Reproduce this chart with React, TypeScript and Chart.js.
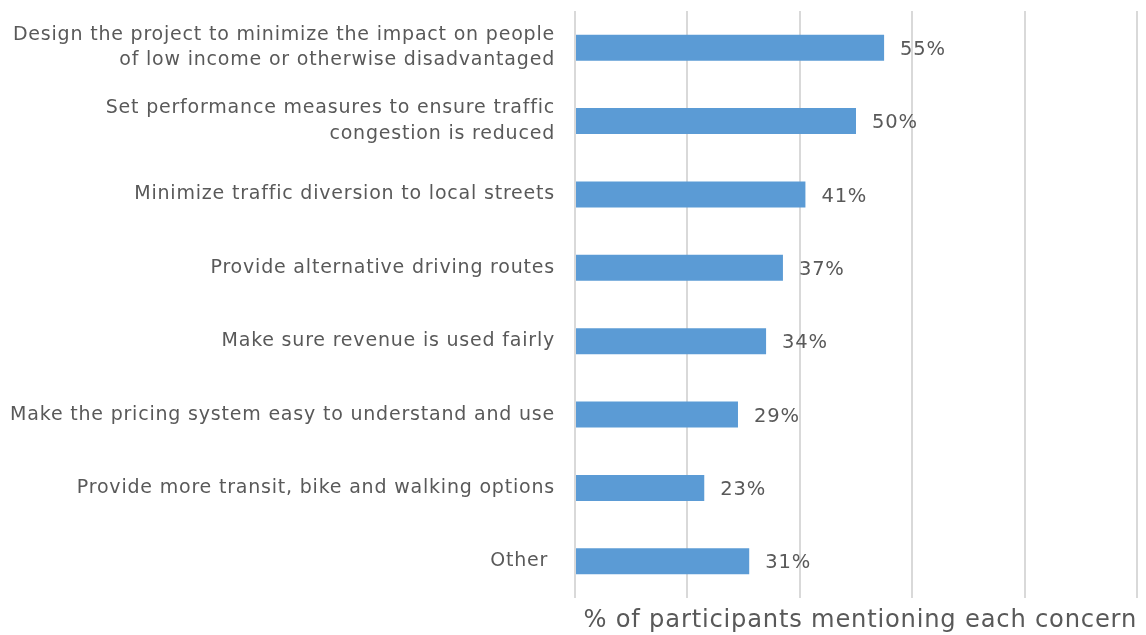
import React, { useEffect, useRef } from "react";
import { Chart, registerables } from "chart.js";

Chart.register(...registerables);

const categories: (string | string[])[] = [
  ["Design the project to minimize the impact on people", "of low income or otherwise disadvantaged"],
  ["Set performance measures to ensure traffic", "congestion is reduced"],
  "Minimize traffic diversion to local streets",
  "Provide alternative driving routes",
  "Make sure revenue is used fairly",
  "Make the pricing system easy to understand and use",
  "Provide more transit, bike and walking options",
  "Other ",
];
const values: number[] = [55, 50, 41, 37, 34, 29, 23, 31];
const axisTitle = " % of participants mentioning each concern";

const FONT = "'DejaVu Sans', sans-serif";
const TEXT = "#595959";
const SPACING = "0.8px";

const spacingPlugin = {
  id: "spacing",
  beforeUpdate(chart: any) {
    chart.ctx.letterSpacing = SPACING;
  },
  beforeLayout(chart: any) {
    chart.ctx.letterSpacing = SPACING;
  },
  beforeDraw(chart: any) {
    chart.ctx.letterSpacing = SPACING;
  },
};

const dataLabels = {
  id: "dataLabels",
  afterDatasetsDraw(chart: any) {
    const ctx = chart.ctx;
    const meta = chart.getDatasetMeta(0);
    ctx.save();
    ctx.font = `19.5px ${FONT}`;
    ctx.fillStyle = TEXT;
    ctx.textAlign = "left";
    ctx.textBaseline = "middle";
    meta.data.forEach((bar: any, i: number) => {
      ctx.fillText(values[i] + "%", bar.x + 16, bar.y + 2);
    });
    ctx.restore();
  },
};

export default function App() {
  const ref = useRef<HTMLCanvasElement>(null);
  useEffect(() => {
    document.body.style.margin = "0";
    const chart = new Chart(ref.current!, {
      type: "bar",
      data: {
        labels: categories,
        datasets: [
          {
            data: values,
            backgroundColor: "#5b9bd5",
            borderWidth: 0,
            barPercentage: 0.7,
            categoryPercentage: 0.505,
          },
        ],
      },
      options: {
        indexAxis: "y",
        responsive: false,
        animation: false,
        layout: { padding: { top: 11, right: 9, left: 0, bottom: 0 } },
        plugins: { legend: { display: false }, tooltip: { enabled: false } },
        scales: {
          x: {
            min: 0,
            max: 100,
            ticks: { display: false, stepSize: 20 },
            border: { display: false },
            grid: { color: "#d9d9d9", lineWidth: 2, drawTicks: false },
            title: {
              display: true,
              text: axisTitle,
              color: TEXT,
              font: { family: FONT, size: 24.5 },
              padding: { top: 6, bottom: 0 },
            },
            afterFit(scale: any) {
              scale.height = 37;
              scale.paddingLeft = 0;
              scale.paddingRight = 0;
            },
          },
          y: {
            ticks: {
              color: TEXT,
              font: { family: FONT, size: 19, lineHeight: 1.33 },
              padding: 20,
            },
            border: { display: false },
            grid: { display: false, drawTicks: false },
            afterFit(scale: any) {
              scale.width = 575;
              scale.paddingTop = 0;
              scale.paddingBottom = 0;
            },
          },
        },
      },
      plugins: [spacingPlugin, dataLabels],
    });
    return () => chart.destroy();
  }, []);
  return (
    <div style={{ width: 1146, height: 635, background: "#fff" }}>
      <canvas ref={ref} width={1146} height={635} />
    </div>
  );
}
